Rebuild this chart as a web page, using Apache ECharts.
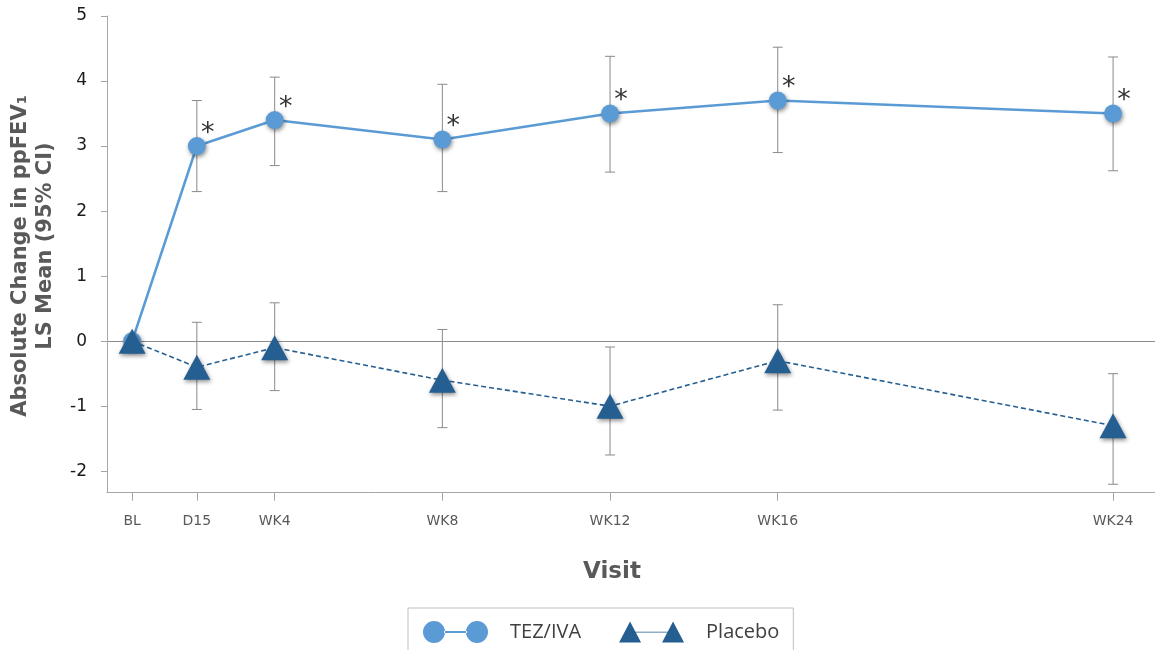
<!DOCTYPE html>
<html>
<head>
<meta charset="utf-8">
<script src="https://cdn.jsdelivr.net/npm/echarts@6/dist/echarts.min.js"></script>
<style>
  html, body { margin: 0; padding: 0; background: #ffffff; }
  #chart { width: 1155px; height: 650px; }
</style>
</head>
<body>
<div id="chart"></div>
<script>
// Visits and their positions on the time axis (weeks)
const visits = ['BL', 'D15', 'WK4', 'WK8', 'WK12', 'WK16', 'WK24'];
const visitWeeks = [0.6, 15 / 7, 4, 8, 12, 16, 24];

// TEZ/IVA: LS mean absolute change in ppFEV1 with 95% CI
const tezMean = [0, 3.0, 3.4, 3.1, 3.5, 3.7, 3.5];
const tezLow  = [null, 2.3, 2.7, 2.3, 2.6, 2.9, 2.62];
const tezHigh = [null, 3.7, 4.06, 3.95, 4.38, 4.52, 4.37];

// Placebo: LS mean absolute change in ppFEV1 with 95% CI
const pboMean = [0, -0.4, -0.1, -0.6, -1.0, -0.3, -1.3];
const pboLow  = [null, -1.05, -0.76, -1.33, -1.75, -1.06, -2.2];
const pboHigh = [null, 0.29, 0.59, 0.18, -0.09, 0.56, -0.5];

// Visits where TEZ/IVA differs significantly from placebo
const significant = [false, true, true, true, true, true, true];

const yTicks = [-2, -1, 0, 1, 2, 3, 4, 5];

const GRAY_TEXT = '#595959';
const FONT = '"DejaVu Sans", Verdana, sans-serif';
const LEGEND_FONT = '"Open Sans", "Noto Sans", sans-serif';

function visitLabel(v) {
  let best = 0;
  visitWeeks.forEach((w, i) => { if (Math.abs(w - v) < Math.abs(visitWeeks[best] - v)) best = i; });
  return visits[best];
}

function errorBarSeries(name, low, high) {
  const data = [];
  visitWeeks.forEach((w, i) => { if (low[i] != null) data.push([w, low[i], high[i]]); });
  return {
    name: name + ' CI',
    type: 'custom',
    silent: true,
    z: 1,
    data: data,
    encode: { x: 0, y: [1, 2] },
    renderItem(params, api) {
      const x = api.value(0);
      const lo = api.coord([x, api.value(1)]);
      const hi = api.coord([x, api.value(2)]);
      const hw = 5;
      const style = { stroke: '#8a8a8a', lineWidth: 1 };
      return {
        type: 'group',
        children: [
          { type: 'line', shape: { x1: lo[0], y1: lo[1], x2: hi[0], y2: hi[1] }, style },
          { type: 'line', shape: { x1: lo[0] - hw, y1: lo[1], x2: lo[0] + hw, y2: lo[1] }, style },
          { type: 'line', shape: { x1: hi[0] - hw, y1: hi[1], x2: hi[0] + hw, y2: hi[1] }, style }
        ]
      };
    }
  };
}

const shadow = { shadowBlur: 4, shadowColor: 'rgba(0,0,0,0.45)', shadowOffsetX: 1, shadowOffsetY: 2 };

const tezData = visitWeeks.map((w, i) => ({
  value: [w, tezMean[i]],
  label: { show: significant[i] }
}));
const pboData = visitWeeks.map((w, i) => [w, pboMean[i]]);

// Legend icons: marker - line - marker
const circleIcon = 'path://M0,11a11,11 0 1,0 22,0a11,11 0 1,0 -22,0Z M21,10 L44,10 L44,12 L21,12Z M43,11a11,11 0 1,0 22,0a11,11 0 1,0 -22,0Z';
const triangleIcon = 'path://M0,21 L11,0 L22,21Z M16,10.2 L49,10.2 L49,11 L16,11Z M43,21 L54,0 L65,21Z';

const chart = echarts.init(document.getElementById('chart'));
chart.setOption({
  animation: false,
  backgroundColor: '#ffffff',
  grid: { left: 107, right: 0, top: 16, bottom: 157.3, containLabel: false },
  xAxis: {
    type: 'value',
    min: 0,
    max: 25,
    axisLine: { show: true, onZero: false, lineStyle: { color: '#a6a6a6', width: 1 } },
    axisTick: { show: true, customValues: visitWeeks, length: 8, lineStyle: { color: '#a6a6a6' } },
    axisLabel: {
      customValues: visitWeeks,
      formatter: visitLabel,
      margin: 22,
      color: GRAY_TEXT,
      fontFamily: FONT,
      fontSize: 14
    },
    splitLine: { show: false }
  },
  yAxis: {
    type: 'value',
    min: -2.33,
    max: 5,
    axisLine: { show: true, onZero: false, lineStyle: { color: '#a6a6a6', width: 1 } },
    axisTick: { show: true, customValues: yTicks, length: 6, lineStyle: { color: '#a6a6a6' } },
    axisLabel: {
      customValues: yTicks,
      margin: 20,
      color: '#1a1a1a',
      fontFamily: FONT,
      fontSize: 17,
      padding: [4, 0, 0, 0]
    },
    splitLine: { show: false }
  },
  legend: {
    data: [
      { name: 'TEZ/IVA', icon: circleIcon },
      { name: 'Placebo', icon: triangleIcon }
    ],
    left: 408,
    top: 608,
    orient: 'horizontal',
    itemWidth: 65,
    itemHeight: 22,
    itemGap: 38,
    padding: [13, 14, 20, 15],
    borderColor: '#bfbfbf',
    borderWidth: 1,
    selectedMode: false,
    textStyle: { color: '#404040', fontFamily: LEGEND_FONT, fontSize: 20, padding: [0, 0, 0, 17] }
  },
  graphic: [
    {
      type: 'text',
      x: 21, y: 256,
      rotation: Math.PI / 2,
      style: {
        text: 'Absolute Change in ppFEV₁',
        fill: GRAY_TEXT, font: 'bold 21px ' + FONT,
        align: 'center', verticalAlign: 'middle'
      }
    },
    {
      type: 'text',
      x: 46, y: 246,
      rotation: Math.PI / 2,
      style: {
        text: 'LS Mean (95% CI)',
        fill: GRAY_TEXT, font: 'bold 21px ' + FONT,
        align: 'center', verticalAlign: 'middle'
      }
    },
    {
      type: 'text',
      x: 612, y: 572,
      style: {
        text: 'Visit',
        fill: GRAY_TEXT, font: 'bold 23px ' + FONT,
        align: 'center', verticalAlign: 'middle'
      }
    }
  ],
  series: [
    errorBarSeries('TEZ/IVA', tezLow, tezHigh),
    errorBarSeries('Placebo', pboLow, pboHigh),
    {
      name: 'TEZ/IVA',
      type: 'line',
      z: 3,
      data: tezData,
      symbol: 'circle',
      symbolSize: 18,
      lineStyle: { color: '#5b9bd5', width: 2.6 },
      itemStyle: Object.assign({ color: '#5b9bd5' }, shadow),
      label: {
        show: true,
        formatter: '*',
        position: 'top',
        offset: [11, 15],
        color: '#333333',
        fontFamily: FONT,
        fontSize: 27
      },
      markLine: {
        silent: true,
        symbol: 'none',
        label: { show: false },
        lineStyle: { color: '#8c8c8c', width: 1, type: 'solid' },
        data: [{ yAxis: 0 }],
        z: 0
      }
    },
    {
      name: 'Placebo',
      type: 'line',
      z: 4,
      data: pboData,
      symbol: 'triangle',
      symbolSize: [27, 25],
      lineStyle: { color: '#255e91', width: 1.6, type: [5, 3] },
      itemStyle: Object.assign({ color: '#255e91' }, shadow)
    }
  ]
});
</script>
</body>
</html>
